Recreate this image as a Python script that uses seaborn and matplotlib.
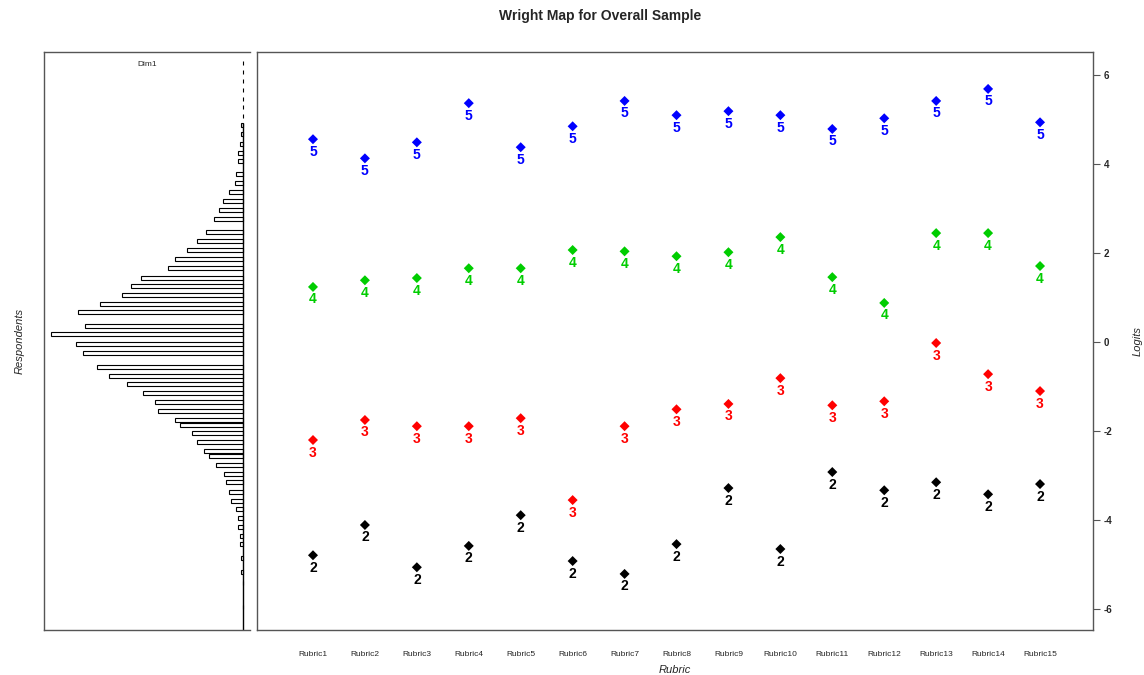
import numpy as np
import pandas as pd
import matplotlib
matplotlib.use("Agg")
import matplotlib.pyplot as plt
import seaborn as sns

# item thresholds (logits)
rubrics = ["Rubric%d" % i for i in range(1, 16)]
thr2 = [-4.79, -4.11, -5.06, -4.58, -3.89, -4.92, -5.21, -4.54, -3.28, -4.65, -2.92, -3.33, -3.15, -3.42, -3.19]
thr3 = [-2.20, -1.75, -1.89, -1.89, -1.71, -3.55, -1.89, -1.51, -1.39, -0.81, -1.42, -1.33, -0.02, -0.72, -1.10]
thr4 = [1.24, 1.39, 1.44, 1.66, 1.66, 2.07, 2.04, 1.93, 2.02, 2.36, 1.46, 0.88, 2.45, 2.45, 1.71]
thr5 = [4.56, 4.13, 4.49, 5.37, 4.38, 4.85, 5.42, 5.10, 5.19, 5.10, 4.79, 5.03, 5.42, 5.69, 4.94]

# person distribution (bin position in logits, count)
person_pos = [6.27, 6.07, 5.87, 5.66, 5.46, 5.28, 5.08, 4.88, 4.67, 4.46, 4.26, 4.06,
              3.77, 3.57, 3.37, 3.17, 2.97, 2.76, 2.48, 2.27, 2.07, 1.87, 1.66, 1.45,
              1.26, 1.06, 0.86, 0.67, 0.37, 0.18, -0.04, -0.25, -0.56, -0.76, -0.94,
              -1.14, -1.34, -1.54, -1.75, -1.86, -2.05, -2.25, -2.45, -2.56, -2.76,
              -2.97, -3.15, -3.36, -3.56, -3.75, -3.96, -4.15, -4.35, -4.54, -4.86,
              -5.16, -5.42, -5.95]
person_n = [0, 0, 0, 0, 0, 0, 0, 1, 1, 2, 3, 3,
            4, 5, 8, 12, 14, 17, 22, 27, 33, 40, 44, 60,
            66, 71, 84, 97, 93, 113, 98, 94, 86, 79, 68,
            59, 52, 50, 40, 37, 30, 27, 23, 20, 16,
            11, 10, 8, 7, 4, 3, 3, 2, 2, 1,
            1, 0, 0]

levels = ["2", "3", "4", "5"]
colors = {"2": "black", "3": "#FF0000", "4": "#00CD00", "5": "#0000FF"}

sns.set_style("white")
plt.rcParams["font.family"] = ["Liberation Sans", "DejaVu Sans"]
plt.rcParams["axes.unicode_minus"] = False

fig = plt.figure(figsize=(11.44, 6.75), dpi=100)
ylim = (-6.47, 6.52)

# left panel: respondents histogram
axh = fig.add_axes([44 / 1144, 45 / 675, 206 / 1144, 578 / 675])
axh.barh(person_pos, person_n, height=0.09, left=0, color="white",
         edgecolor="black", linewidth=0.8)
top_bar = max(p for p, n in zip(person_pos, person_n) if n > 0) + 0.05
axh.vlines(0, ylim[0], top_bar, color="black", linewidth=1.0)
axh.set_xlim(117.1, -4.1)
axh.set_ylim(*ylim)
axh.set_xticks([])
axh.set_yticks([])
for side in ["left", "top", "bottom"]:
    axh.spines[side].set_color("#555555")
    axh.spines[side].set_linewidth(1.0)
axh.spines["right"].set_visible(False)
axh.text(0.5, 0.985, "Dim1", transform=axh.transAxes, ha="center", va="top", fontsize=6)
axh.set_ylabel("Respondents", fontsize=8, style="italic", labelpad=14)

# right panel: item thresholds
ax = fig.add_axes([257 / 1144, 45 / 675, 836 / 1144, 578 / 675])
df = pd.DataFrame({
    "item": np.tile(np.arange(1, 16), 4),
    "logit": thr2 + thr3 + thr4 + thr5,
    "level": np.repeat(levels, 15),
})
sns.scatterplot(data=df, x="item", y="logit", hue="level", palette=colors,
                marker="D", s=26, edgecolor="none", legend=False, ax=ax)
for _, r in df.iterrows():
    ax.annotate(r["level"], (r["item"], r["logit"]), xytext=(0, -9),
                textcoords="offset points", ha="center", va="center",
                fontsize=10, fontweight="bold", color=colors[r["level"]])

ax.set_xlim(-0.078, 16.02)
ax.set_ylim(*ylim)
ax.set_xticks(range(1, 16))
ax.set_xticklabels(rubrics, fontsize=6)
ax.tick_params(axis="x", length=0, pad=15)
ax.yaxis.tick_right()
ax.yaxis.set_label_position("right")
ax.set_yticks([-6, -4, -2, 0, 2, 4, 6])
ax.tick_params(axis="y", right=True, length=5, width=0.8, color="#555555",
               labelsize=7, pad=3)
for lab in ax.get_yticklabels():
    lab.set_fontweight("bold")
for side in ax.spines:
    ax.spines[side].set_color("#555555")
    ax.spines[side].set_linewidth(1.0)
ax.set_xlabel("Rubric", fontsize=8, style="italic", labelpad=5)
ax.set_ylabel("Logits", fontsize=8, style="italic", labelpad=14)

fig.text(600 / 1144, 1 - 16 / 675, "Wright Map for Overall Sample",
         ha="center", va="center", fontsize=10, fontweight="bold")

fig.savefig("out.png", dpi=100)
